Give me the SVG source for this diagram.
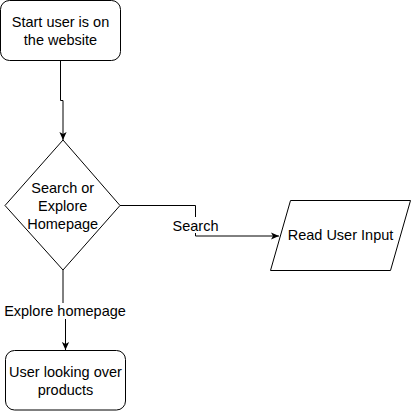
<svg xmlns="http://www.w3.org/2000/svg" width="411" height="411" viewBox="0 0 411 411">
<style>
.shape{fill:#fff;stroke:#000;stroke-width:1}
.t{font-family:"Liberation Sans",Arial,sans-serif;font-size:14.5px;fill:#000;text-anchor:middle}
.edge{fill:none;stroke:#000;stroke-width:1}
</style>
<defs>
<marker id="arr" viewBox="0 0 10 10" refX="10" refY="5" markerWidth="8" markerHeight="8" markerUnits="userSpaceOnUse" orient="auto">
<path d="M0,0.5 L10,5 L0,9.5 L2.5,5 Z" fill="#000" stroke="none"/>
</marker>
</defs>
<rect width="411" height="411" fill="#fff"/>
<g id="connectors">
<path class="edge" d="M60.5,60.5 V100.5 H63 V140" marker-end="url(#arr)"/>
<path class="edge" d="M120,205.5 H195.5 V236 H279" marker-end="url(#arr)"/>
<path class="edge" d="M63,270 V305 M65.5,318 V350" marker-end="url(#arr)"/>
<g id="edge-labels">
<rect x="171" y="217" width="48" height="16" fill="#fff"/>
<text class="t" x="195.5" y="230.5">Search</text>
<rect x="1" y="303" width="128" height="16" fill="#fff"/>
<text class="t" x="65" y="316">Explore homepage</text>
</g>
</g>
<g id="start">
<rect class="shape" x="0.5" y="0.5" width="120" height="60" rx="9" ry="9"/>
<text class="t" x="60.5" y="27.3">Start user is on</text>
<text class="t" x="60.5" y="45">the website</text>
</g>
<g id="decision">
<polygon class="shape" points="63,140 120,205.5 63,270 5,205.5"/>
<text class="t" x="62.7" y="193.3">Search or</text>
<text class="t" x="62.7" y="211.3">Explore</text>
<text class="t" x="62.7" y="229">Homepage</text>
</g>
<g id="read-input">
<polygon class="shape" points="290.5,200.5 410.5,200.5 390.5,270.5 270.5,270.5"/>
<text class="t" x="340.5" y="240">Read User Input</text>
</g>
<g id="browse">
<rect class="shape" x="5.5" y="350.5" width="120" height="59.5" rx="9" ry="9"/>
<text class="t" x="65.5" y="377.3">User looking over</text>
<text class="t" x="65.5" y="395">products</text>
</g>
</svg>
